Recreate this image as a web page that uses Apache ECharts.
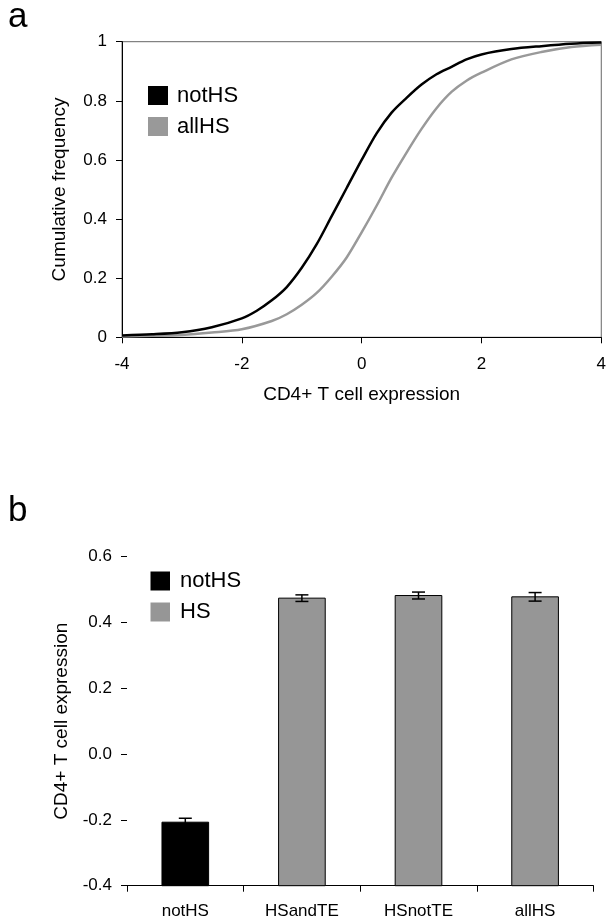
<!DOCTYPE html>
<html>
<head>
<meta charset="utf-8">
<script src="https://cdn.jsdelivr.net/npm/echarts@6/dist/echarts.min.js"></script>
<style>
  html, body { margin: 0; padding: 0; background: #fff; }
  #chart { width: 609px; height: 922px; }
</style>
</head>
<body>
<div id="chart"></div>
<script>
// panel a: cumulative frequency curves
const notHsX = [-4, -3.5, -3, -2.5, -2, -1.75, -1.5, -1.25, -1, -0.75, -0.5, -0.25, 0, 0.25, 0.5, 0.75, 1, 1.25, 1.5, 1.75, 2, 2.5, 3, 3.5, 4]
const notHsY = [0.006, 0.01, 0.017, 0.034, 0.064, 0.09, 0.125, 0.17, 0.235, 0.315, 0.41, 0.505, 0.6, 0.69, 0.76, 0.81, 0.855, 0.89, 0.915, 0.94, 0.957, 0.975, 0.985, 0.993, 0.997]
const allHsX = [-4, -3.5, -3, -2.5, -2, -1.5, -1.25, -1, -0.75, -0.5, -0.25, 0, 0.25, 0.5, 0.75, 1, 1.25, 1.5, 1.75, 2, 2.5, 3, 3.5, 4]
const allHsY = [0.003, 0.005, 0.008, 0.016, 0.027, 0.055, 0.078, 0.11, 0.15, 0.205, 0.27, 0.355, 0.445, 0.54, 0.625, 0.705, 0.775, 0.83, 0.868, 0.895, 0.94, 0.965, 0.982, 0.99]

// panel b: mean expression per group with error bars
const categories = ['notHS', 'HSandTE', 'HSnotTE', 'allHS']
const barValues = [-0.207, 0.474, 0.482, 0.478]
const barErrors = [0.012, 0.010, 0.0105, 0.013]
const barGroups = ['notHS', 'HS', 'HS', 'HS']

// axis ranges
const aXRange = [-4, 4, 2]
const aYRange = [0, 1, 0.2]
const bYRange = [-0.4, 0.6, 0.2]

const black = '#000'
const grey = '#999'
const barGrey = '#969696'
const font = 'Liberation Sans, Arial, Helvetica, sans-serif'

function pairs (xs, ys) {
  return xs.map((x, i) => [x, ys[i]])
}

function barData (group) {
  const list = []
  categories.forEach((c, i) => {
    if (barGroups[i] === group) list.push([i, barValues[i]])
  })
  return list
}

function renderBar (params, api) {
  const top = api.coord([api.value(0), api.value(1)])
  const base = api.coord([api.value(0), bYRange[0]])
  const w = api.size([1, 0])[0] * 0.4
  return {
    type: 'rect',
    shape: { x: top[0] - w / 2, y: top[1], width: w, height: base[1] - top[1] },
    style: { fill: api.visual('color'), stroke: black, lineWidth: 1 }
  }
}

function renderErr (params, api) {
  const i = api.value(0)
  const hi = api.coord([i, api.value(1) + api.value(2)])
  const lo = api.coord([i, api.value(1) - api.value(2)])
  const cap = 6.5
  const style = { stroke: black, lineWidth: 1.5 }
  return {
    type: 'group',
    children: [
      { type: 'line', shape: { x1: hi[0], y1: hi[1], x2: lo[0], y2: lo[1] }, style },
      { type: 'line', shape: { x1: hi[0] - cap, y1: hi[1], x2: hi[0] + cap, y2: hi[1] }, style },
      { type: 'line', shape: { x1: lo[0] - cap, y1: lo[1], x2: lo[0] + cap, y2: lo[1] }, style }
    ]
  }
}

const axisBase = {
  axisLine: { onZero: false, lineStyle: { color: black, width: 1 } },
  axisTick: { show: true, length: 6, lineStyle: { color: black } },
  splitLine: { show: false },
  axisLabel: { color: black, fontSize: 17, fontFamily: font },
  nameTextStyle: { color: black, fontSize: 19, fontFamily: font },
  nameLocation: 'middle'
}

const chart = echarts.init(document.getElementById('chart'))
const option = {
  animation: false,
  textStyle: { fontFamily: font },
  title: [
    { text: 'a', left: 8, top: 0, padding: 0, textStyle: { fontSize: 35, fontWeight: 'normal', color: black, fontFamily: font } },
    { text: 'b', left: 8, top: 494, padding: 0, textStyle: { fontSize: 35, fontWeight: 'normal', color: black, fontFamily: font } }
  ],
  legend: [
    {
      orient: 'vertical',
      left: 148,
      top: 84.5,
      padding: 0,
      itemGap: 9,
      itemWidth: 20,
      itemHeight: 19,
      icon: 'rect',
      textStyle: { fontSize: 22, color: black, fontFamily: font, padding: [0, 0, 0, 4] },
      data: [
        { name: 'notHS', itemStyle: { color: black, borderWidth: 0 } },
        { name: 'allHS', itemStyle: { color: grey, borderWidth: 0 } }
      ]
    },
    {
      orient: 'vertical',
      left: 150.5,
      top: 570,
      padding: 0,
      itemGap: 9,
      itemWidth: 19.5,
      itemHeight: 19,
      icon: 'rect',
      textStyle: { fontSize: 22, color: black, fontFamily: font, padding: [0, 0, 0, 5] },
      data: [
        { name: 'notHS', itemStyle: { color: black, borderWidth: 0 } },
        { name: 'HS', itemStyle: { color: barGrey, borderWidth: 0 } }
      ]
    }
  ],
  grid: [
    { left: 122, right: 2.5, top: 41.7, bottom: 584.7, show: true, borderColor: '#666', borderWidth: 1 },
    { left: 127, right: 15.6, top: 556.7, bottom: 36.3 }
  ],
  xAxis: [
    Object.assign({}, axisBase, {
      type: 'value',
      gridIndex: 0,
      min: aXRange[0],
      max: aXRange[1],
      interval: aXRange[2],
      name: 'CD4+ T cell expression',
      nameGap: 48,
      axisLabel: Object.assign({}, axisBase.axisLabel, { margin: 19 })
    }),
    Object.assign({}, axisBase, {
      type: 'category',
      gridIndex: 1,
      data: categories,
      axisTick: { show: true, length: 6, alignWithLabel: false, lineStyle: { color: black } },
      axisLabel: Object.assign({}, axisBase.axisLabel, { margin: 17 })
    })
  ],
  yAxis: [
    Object.assign({}, axisBase, {
      type: 'value',
      gridIndex: 0,
      min: aYRange[0],
      max: aYRange[1],
      interval: aYRange[2],
      name: 'Cumulative frequency',
      nameGap: 53,
      axisLabel: Object.assign({}, axisBase.axisLabel, { margin: 15 })
    }),
    Object.assign({}, axisBase, {
      type: 'value',
      gridIndex: 1,
      min: bYRange[0],
      max: bYRange[1],
      interval: bYRange[2],
      name: 'CD4+ T cell expression',
      nameGap: 56,
      axisLabel: Object.assign({}, axisBase.axisLabel, {
        margin: 15,
        formatter: v => v.toFixed(1)
      })
    })
  ],
  series: [
    {
      name: 'notHS',
      type: 'line',
      xAxisIndex: 0,
      yAxisIndex: 0,
      data: pairs(notHsX, notHsY),
      smooth: 0.3,
      showSymbol: false,
      color: black,
      lineStyle: { color: black, width: 2.5 },
      z: 3
    },
    {
      name: 'allHS',
      type: 'line',
      xAxisIndex: 0,
      yAxisIndex: 0,
      data: pairs(allHsX, allHsY),
      smooth: 0.3,
      showSymbol: false,
      color: grey,
      lineStyle: { color: grey, width: 2.5 },
      z: 2
    },
    {
      name: 'notHS',
      type: 'custom',
      xAxisIndex: 1,
      yAxisIndex: 1,
      renderItem: renderBar,
      itemStyle: { color: black },
      data: barData('notHS')
    },
    {
      name: 'HS',
      type: 'custom',
      xAxisIndex: 1,
      yAxisIndex: 1,
      renderItem: renderBar,
      itemStyle: { color: barGrey },
      data: barData('HS')
    },
    {
      name: 'error',
      type: 'custom',
      xAxisIndex: 1,
      yAxisIndex: 1,
      renderItem: renderErr,
      z: 5,
      data: categories.map((c, i) => [i, barValues[i], barErrors[i]])
    }
  ]
}
chart.setOption(option)
</script>
</body>
</html>
